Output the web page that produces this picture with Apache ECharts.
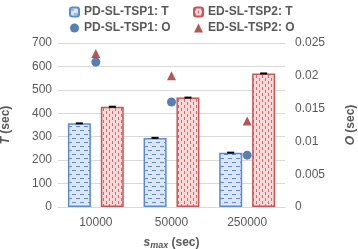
<!DOCTYPE html>
<html>
<head>
<meta charset="utf-8">
<script src="https://cdn.jsdelivr.net/npm/echarts@6/dist/echarts.min.js"></script>
<style>
  html, body { margin: 0; padding: 0; background: #fff; }
  #chart { width: 358px; height: 249px; }
</style>
</head>
<body>
<div id="chart"></div>
<script>
// data
var categories = ['10000', '50000', '250000'];
var pdT = [357, 295, 232];
var edT = [428, 467, 570];
var pdO = [0.0221, 0.0160, 0.0079];
var edO = [0.0234, 0.0200, 0.0131];
var leftTicks = [0, 700, 100];
var rightTicks = [0, 0.025, 0.005];

// hatch patterns for the bars
function makePattern(bg, fg, kind) {
    var c = document.createElement('canvas');
    var ctx = c.getContext('2d');
    if (kind === 'h') {
        c.width = 8; c.height = 8;
        ctx.fillStyle = bg; ctx.fillRect(0, 0, 8, 8);
        ctx.fillStyle = fg;
        ctx.fillRect(0, 2, 4, 1);
        ctx.fillRect(4, 6, 4, 1);
    } else {
        c.width = 6; c.height = 6;
        ctx.fillStyle = bg; ctx.fillRect(0, 0, 6, 6);
        ctx.fillStyle = fg;
        ctx.fillRect(1, 0, 1, 3);
        ctx.fillRect(4, 3, 1, 3);
    }
    return { image: c, repeat: 'repeat' };
}
var bluePat = makePattern('#dce6f4', '#5b8bd0', 'h');
var redPat = makePattern('#f6d9d9', '#d46a6a', 'v');

var textColor = '#595959';
var barW = 23, barOff = 16.5;

function capSeries(vals, off) {
    return {
        type: 'custom',
        silent: true,
        z: 10,
        data: vals.map(function (v, i) { return [i, v]; }),
        renderItem: function (params, api) {
            var p = api.coord([api.value(0), api.value(1)]);
            return {
                type: 'rect',
                shape: { x: p[0] + off - 3.5, y: p[1] - 1, width: 7, height: 2 },
                style: { fill: '#000' }
            };
        }
    };
}

var legendText = { color: textColor, fontSize: 12, fontWeight: 'bold', fontFamily: 'Liberation Sans' };

var option = {
    animation: false,
    textStyle: { fontFamily: 'Liberation Sans' },
    grid: { left: 58, right: 73, top: 43, bottom: 42, outerBoundsMode: 'none', containLabel: false },
    legend: [{
        left: 64, top: 1, orient: 'vertical', itemGap: 4,
        itemWidth: 9, itemHeight: 9,
        textStyle: legendText,
        data: ['PD-SL-TSP1: T', 'PD-SL-TSP1: O']
    }, {
        left: 188, top: 1, orient: 'vertical', itemGap: 4,
        itemWidth: 9, itemHeight: 9,
        textStyle: legendText,
        data: ['ED-SL-TSP2: T', 'ED-SL-TSP2: O']
    }],
    xAxis: {
        type: 'category',
        data: categories,
        axisTick: { show: false },
        axisLine: { lineStyle: { color: '#d9d9d9' } },
        axisLabel: { color: textColor, fontSize: 12, margin: 10 },
        name: '{s|s}{sub|max}{n| (sec)}',
        nameLocation: 'middle',
        nameGap: 28,
        nameTextStyle: {
            rich: {
                s: { fontSize: 12, fontWeight: 'bold', fontStyle: 'italic', color: textColor },
                sub: { fontSize: 9, fontWeight: 'bold', fontStyle: 'italic', color: textColor, verticalAlign: 'bottom', padding: [6, 0, 0, 0] },
                n: { fontSize: 12, fontWeight: 'bold', color: textColor }
            }
        }
    },
    yAxis: [{
        type: 'value',
        min: leftTicks[0], max: leftTicks[1], interval: leftTicks[2],
        axisLine: { show: false },
        axisTick: { show: false },
        axisLabel: { color: textColor, fontSize: 12, margin: 6 },
        splitLine: { lineStyle: { color: '#d9d9d9' } },
        name: '{i|T}{n| (sec)}',
        nameLocation: 'middle',
        nameRotate: 90,
        nameGap: 46,
        nameTextStyle: {
            rich: {
                i: { fontSize: 12, fontWeight: 'bold', fontStyle: 'italic', color: textColor },
                n: { fontSize: 12, fontWeight: 'bold', color: textColor }
            }
        }
    }, {
        type: 'value',
        position: 'right',
        min: rightTicks[0], max: rightTicks[1], interval: rightTicks[2],
        axisLine: { show: false },
        axisTick: { show: false },
        splitLine: { show: false },
        axisLabel: { color: textColor, fontSize: 12, margin: 10 },
        name: '{i|O}{n| (sec)}',
        nameLocation: 'middle',
        nameRotate: 90,
        nameGap: 60,
        nameTextStyle: {
            rich: {
                i: { fontSize: 12, fontWeight: 'bold', fontStyle: 'italic', color: textColor },
                n: { fontSize: 12, fontWeight: 'bold', color: textColor }
            }
        }
    }],
    series: [{
        name: 'PD-SL-TSP1: T',
        type: 'bar',
        barWidth: barW,
        barGap: '43%',
        data: pdT,
        itemStyle: { color: bluePat, borderColor: '#5b8bd0', borderWidth: 1.5 }
    }, {
        name: 'ED-SL-TSP2: T',
        type: 'bar',
        barWidth: barW,
        data: edT,
        itemStyle: { color: redPat, borderColor: '#cc5555', borderWidth: 1.5 }
    }, {
        name: 'PD-SL-TSP1: O',
        type: 'scatter',
        yAxisIndex: 1,
        symbol: 'circle',
        symbolSize: 9,
        data: pdO,
        itemStyle: { color: '#2e5f9e' },
        z: 5
    }, {
        name: 'ED-SL-TSP2: O',
        type: 'scatter',
        yAxisIndex: 1,
        symbol: 'triangle',
        symbolSize: 9,
        data: edO,
        itemStyle: { color: '#a52a2a' },
        z: 5
    },
    capSeries(pdT, -barOff),
    capSeries(edT, barOff)]
};

var chart = echarts.init(document.getElementById('chart'));
chart.setOption(option);
</script>
</body>
</html>
